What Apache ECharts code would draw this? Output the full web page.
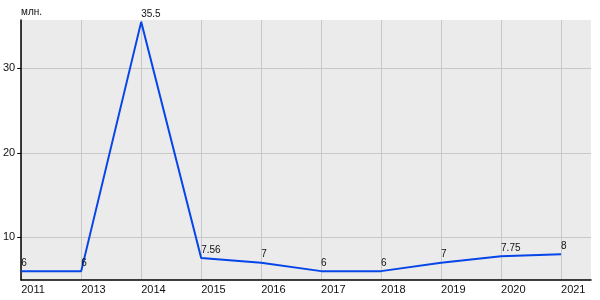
<!DOCTYPE html>
<html><head><meta charset="utf-8">
<script src="https://cdn.jsdelivr.net/npm/echarts@6/dist/echarts.min.js"></script>
<style>html,body{margin:0;padding:0;background:#fff}#c{width:600px;height:300px}</style>
</head><body><div id="c"></div>
<script>
const categories = ['2011','2013','2014','2015','2016','2017','2018','2019','2020','2021'];
const values = [6, 6, 35.5, 7.56, 7, 6, 6, 7, 7.75, 8];
const yTicks = [10, 20, 30];
const unitLabel = 'млн.';

const FONT = '"Liberation Sans", Arial, sans-serif';
const chart = echarts.init(document.getElementById('c'), null, {renderer: 'canvas'});
const xIdx = categories.map((_, i) => i);
chart.setOption({
  animation: false,
  backgroundColor: '#fff',
  grid: {left: 21, right: 9, top: 20, bottom: 20, show: true, backgroundColor: '#ebebeb', borderWidth: 0},
  graphic: [{type: 'text', left: 21, top: 7, style: {text: unitLabel, font: '10px ' + FONT, fill: '#111'}}],
  xAxis: {
    type: 'value', min: 0, max: 9.5,
    axisLine: {show: true, onZero: false, lineStyle: {color: '#000', width: 1.5}},
    axisTick: {show: false, customValues: xIdx},
    axisLabel: {customValues: xIdx, formatter: v => categories[v] || '', align: 'left', margin: 4, color: '#111', fontSize: 11, fontFamily: FONT},
    splitLine: {show: true, lineStyle: {color: '#c8c8c8', width: 1}}
  },
  yAxis: {
    type: 'value', min: 4.95, max: 35.72,
    axisLine: {show: true, lineStyle: {color: '#000', width: 1.5}},
    axisTick: {show: true, length: 4, customValues: yTicks, lineStyle: {color: '#000'}},
    axisLabel: {customValues: yTicks, margin: 6, color: '#111', fontSize: 11, fontFamily: FONT},
    splitLine: {show: true, lineStyle: {color: '#c8c8c8', width: 1}}
  },
  series: [{
    type: 'line',
    data: values.map((v, i) => [i, v]),
    symbol: 'circle', symbolSize: 0,
    lineStyle: {color: '#0645e8', width: 2},
    itemStyle: {color: '#0645e8'},
    label: {show: true, position: [0, -3], align: 'left', verticalAlign: 'bottom', color: '#111', fontSize: 10, fontFamily: FONT, formatter: p => String(p.value[1])}
  }]
});
</script></body></html>
